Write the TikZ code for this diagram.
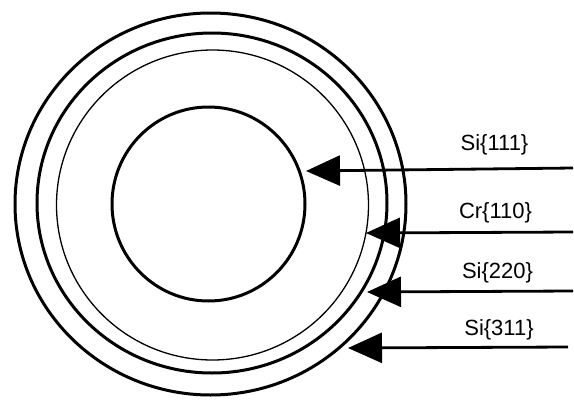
\documentclass[tikz,border=0pt]{standalone}
\usepackage{fontspec}
\setmainfont{Liberation Sans}
\usetikzlibrary{arrows.meta}
\begin{document}
\begin{tikzpicture}[x=1pt,y=-1pt,
  ring/.style={draw=black,line width=3pt},
  thinring/.style={draw=black,line width=1.3pt},
  ray/.style={draw=black,line width=2.8pt,-{Triangle[length=34pt,width=30pt]}},
  lbl/.style={font=\fontsize{22pt}{24pt}\selectfont,anchor=base,inner sep=0pt}]
\useasboundingbox (0,0) rectangle (574,400);
% circles
\coordinate (c1) at (210.5,204);
\coordinate (c2) at (212,203);
\coordinate (c3) at (212.5,205);
\coordinate (c4) at (208.5,204);
\draw[ring] (c1) ellipse [x radius=195.5pt, y radius=191pt];
\draw[ring] (c2) ellipse [x radius=175pt, y radius=170pt];
\draw[thinring] (c3) ellipse [x radius=156pt, y radius=155pt];
\draw[ring] (c4) ellipse [x radius=96.5pt, y radius=97pt];
% labels
\node[lbl] (l1) at (494.5,150) {Si\{111\}};
\node[lbl] (l2) at (495.5,218) {Cr\{110\}};
\node[lbl] (l3) at (497.5,278) {Si\{220\}};
\node[lbl] (l4) at (499,335) {Si\{311\}};
% arrow ends
\coordinate (s1) at (573,168);
\coordinate (t1) at (306,171);
\coordinate (s2) at (573,232);
\coordinate (t2) at (366,233);
\coordinate (s3) at (573,291);
\coordinate (t3) at (367,292);
\coordinate (s4) at (568,347);
\coordinate (t4) at (348,348);
\draw[ray] (s1) -- (t1);
\draw[ray] (s2) -- (t2);
\draw[ray] (s3) -- (t3);
\draw[ray] (s4) -- (t4);
\end{tikzpicture}
\end{document}
